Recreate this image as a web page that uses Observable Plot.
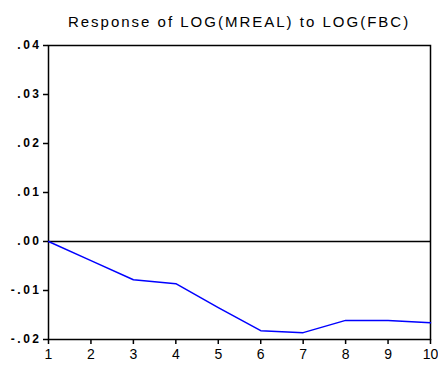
<!DOCTYPE html>
<html>
<head>
<meta charset="utf-8">
<script src="https://cdn.jsdelivr.net/npm/d3@7"></script>
<script src="https://cdn.jsdelivr.net/npm/@observablehq/plot@0.6"></script>
<style>
  body { margin: 0; background: #fff; font-family: "Liberation Sans", Arial, sans-serif; }
  #wrap { width: 438px; height: 367px; position: relative; }
  #title { position: absolute; left: 38px; width: 402px; top: 14px; line-height: 16px; text-align: center; font-size: 15px; letter-spacing: 2px; color: #000; }
  #chart { position: absolute; left: 0; top: 37px; }
  #chart svg g[aria-label^="y-axis"] text { letter-spacing: 2.5px; }
  #chart svg g[aria-label^="x-axis"] text { font-size: 14px !important; }
</style>
</head>
<body>
<div id="wrap">
  <div id="title">Response of LOG(MREAL) to LOG(FBC)</div>
  <div id="chart"></div>
</div>
<script>
// Impulse response horizon (periods) and response values
const periods = [1, 2, 3, 4, 5, 6, 7, 8, 9, 10];
const response = [0.0, -0.0039, -0.0078, -0.0086, -0.0135, -0.0182, -0.0186, -0.0161, -0.0161, -0.0166];
const yTicks = [-0.02, -0.01, 0.00, 0.01, 0.02, 0.03, 0.04];
const xTicks = [1, 2, 3, 4, 5, 6, 7, 8, 9, 10];

const data = periods.map((p, i) => ({period: p, value: response[i]}));
const fmt = d => d.toFixed(2).replace("0.", ".");

const chart = Plot.plot({
  width: 438,
  height: 330,
  marginTop: 8,
  marginBottom: 28,
  marginLeft: 48,
  marginRight: 8,
  style: {fontFamily: "'Liberation Sans', Arial, sans-serif", fontSize: "12px", color: "#000", background: "#fff"},
  x: {domain: [1, 10], label: null},
  y: {domain: [-0.02, 0.04], label: null},
  marks: [
    Plot.frame({stroke: "#000", strokeWidth: 1.5}),
    Plot.ruleY([0], {stroke: "#000", strokeWidth: 1.5}),
    Plot.line(data, {x: "period", y: "value", stroke: "#0000ff", strokeWidth: 1.5}),
    Plot.axisX({ticks: xTicks, tickFormat: d => String(d), tickSize: 5, tickPadding: 5, fontSize: 14, stroke: "#000", strokeWidth: 1.5}),
    Plot.axisY({ticks: yTicks, tickFormat: fmt, tickSize: 5, tickPadding: 2, fontWeight: "bold", stroke: "#000", strokeWidth: 1.5})
  ]
});
document.getElementById("chart").appendChild(chart);
</script>
</body>
</html>
